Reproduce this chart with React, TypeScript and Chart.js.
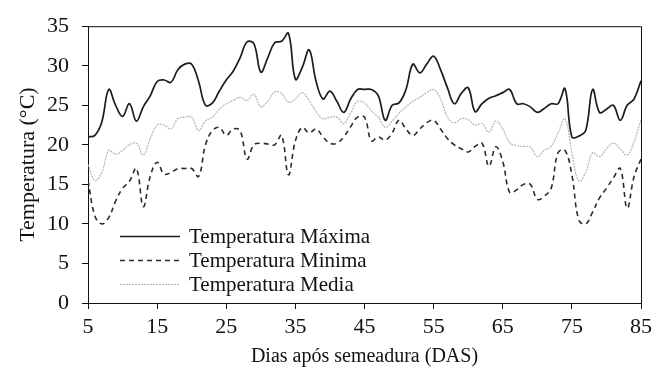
import React, { useEffect, useRef } from "react";
import { Chart, registerables } from "chart.js";
Chart.register(...registerables);

const days = [5,6,7,8,9,10,11,12,13,14,15,16,17,18,19,20,21,22,23,24,25,26,27,28,29,30,31,32,33,34,35,36,37,38,39,40,41,42,43,44,45,46,47,48,49,50,51,52,53,54,55,56,57,58,59,60,61,62,63,64,65,66,67,68,69,70,71,72,73,74,75,76,77,78,79,80,81,82,83,84,85];

const tempMax = [21,21.2,22.9,27,25,23.6,25.2,23,24.8,26.2,28,28.2,27.9,29.5,30.2,30.2,28,25,25.3,26.8,28.2,29.3,31,33,32.8,29.2,31,32.9,33.1,34.1,28.3,29.8,32,28,25.8,26.8,25.5,24.1,25.8,27,27,27,26.2,23.1,25,25.3,27,30.2,29.1,30.2,31.2,29.5,27.2,25.2,26.5,27.2,24.2,25.2,25.9,26.2,26.6,27,25.2,25.2,24.8,24.1,24.6,25.2,25.2,27.1,21,21.1,21.8,27,24.1,24.5,25,23.1,25,25.8,28.1];

const tempMin = [15.5,11,10,10.8,12.9,14.5,15.4,17,12.2,16,17.8,16.3,16.5,17,17,17,16,20,21.8,22.2,21.2,22,21.8,18.2,20,20.2,20.1,20,21.2,16.2,20.5,22.2,21.5,22,21,20.2,20.2,21,22.3,23.5,23.5,20.5,21,20.6,21.5,23.1,22,21.2,22,22.8,23.1,22,20.8,20,19.5,19.1,19.8,20.2,17.3,19.75,17.9,14,14.3,15,15,13.1,13.5,14.5,19,19.3,16.2,10.5,10,11.5,13.3,14.5,15.8,17,12,16,18.2];

const tempMed = [17.5,15.5,16.5,19.3,18.8,19.3,20,20.2,18.7,20.8,22.5,22.5,22,23.3,23.5,23.5,21.8,23,23.5,24.5,25.2,25.6,26,25.6,26.4,24.8,25.5,26.7,26.5,25.4,25.8,26.6,25.6,24.2,23.3,23.5,23.5,22.7,24,25.5,25.3,24.3,23.5,22.2,23,24,24.8,25.5,26,26.6,27,25.8,23.5,22.8,23.3,23.2,22.5,22.7,21.6,23,22,20.3,19.9,19.8,19.7,18.5,19.3,19.8,21.5,23.3,19,15.4,16.5,19,18.5,19.5,20.2,19.5,18.7,20.4,23.2];

const xTicks = [5,15,25,35,45,55,65,75,85];
const seriesNames = ["Temperatura Máxima", "Temperatura Minima", "Temperatura Media"];
const xTitle = "Dias após semeadura (DAS)";
const yTitle = "Temperatura (°C)";

const FONT = "'Liberation Serif', 'Times New Roman', serif";

const framePlugin = {
  id: "frame",
  afterDatasetsDraw(chart: any) {
    const { ctx, chartArea: a } = chart;
    ctx.save();
    ctx.strokeStyle = "#111";
    ctx.lineWidth = 1;
    ctx.beginPath();
    ctx.moveTo(a.left, a.top + 0.5);
    ctx.lineTo(a.right + 0.5, a.top + 0.5);
    ctx.lineTo(a.right + 0.5, a.bottom);
    ctx.stroke();
    // legend
    const items = chart.data.datasets;
    const x0 = 120, x1 = 180, ys = [236, 260, 284];
    items.forEach((ds: any, i: number) => {
      ctx.save();
      ctx.strokeStyle = ds.borderColor;
      ctx.lineWidth = ds.borderWidth;
      ctx.setLineDash(ds.borderDash || []);
      ctx.beginPath();
      ctx.moveTo(x0, ys[i] + 0.5);
      ctx.lineTo(x1, ys[i] + 0.5);
      ctx.stroke();
      ctx.restore();
      ctx.fillStyle = "#111";
      ctx.font = `21px ${FONT}`;
      ctx.textBaseline = "middle";
      ctx.textAlign = "left";
      ctx.fillText(ds.label, 189, ys[i] + 1);
    });
    ctx.restore();
  },
};

export default function App() {
  const ref = useRef<HTMLCanvasElement>(null);
  useEffect(() => {
    const canvas = ref.current!;
    const chart = new Chart(canvas, {
      type: "line",
      data: {
        datasets: [
          {
            label: seriesNames[0],
            data: days.map((d, i) => ({ x: d, y: tempMax[i] })),
            borderColor: "#1c1c1c",
            borderWidth: 1.7,
            pointRadius: 0,
            tension: 0.4,
          },
          {
            label: seriesNames[1],
            data: days.map((d, i) => ({ x: d, y: tempMin[i] })),
            borderColor: "#2a2a2a",
            borderWidth: 1.6,
            borderDash: [5, 4],
            pointRadius: 0,
            tension: 0.4,
          },
          {
            label: seriesNames[2],
            data: days.map((d, i) => ({ x: d, y: tempMed[i] })),
            borderColor: "#b4b4b4",
            borderWidth: 1.2,
            borderDash: [2, 1],
            pointRadius: 0,
            tension: 0.4,
          },
        ],
      },
      options: {
        responsive: false,
        animation: false,
        layout: { padding: { top: 23, right: 12, left: 0, bottom: 0 } },
        plugins: { legend: { display: false }, tooltip: { enabled: false } },
        scales: {
          x: {
            type: "linear",
            min: 5,
            max: 85,
            afterBuildTicks: (s: any) => {
              s.ticks = xTicks.map((v) => ({ value: v }));
            },
            afterFit: (s: any) => {
              s.height = 71;
            },
            border: { display: true, color: "#111", width: 1 },
            grid: { drawOnChartArea: false, drawTicks: true, tickLength: 6, color: "#111" },
            ticks: { color: "#111", padding: 5, font: { family: FONT, size: 22 }, maxRotation: 0 },
            title: {
              display: true,
              text: xTitle,
              color: "#111",
              font: { family: FONT, size: 20 },
              padding: { top: 0, bottom: 5 },
            },
          },
          y: {
            min: 0,
            max: 35,
            ticks: { stepSize: 5, color: "#111", padding: 13, font: { family: FONT, size: 22 } },
            afterFit: (s: any) => {
              s.width = 88;
            },
            border: { display: true, color: "#111", width: 1 },
            grid: { drawOnChartArea: false, drawTicks: true, tickLength: 6, color: "#111" },
            title: {
              display: true,
              text: yTitle,
              color: "#111",
              font: { family: FONT, size: 22 },
              padding: { top: 15, bottom: 0 },
            },
          },
        },
      },
      plugins: [framePlugin],
    } as any);
    return () => chart.destroy();
  }, []);
  return (
    <div style={{ position: "fixed", left: 0, top: 0, width: 657, height: 374, background: "#fff" }}>
      <canvas ref={ref} width={657} height={374} style={{ width: 657, height: 374 }} />
    </div>
  );
}
